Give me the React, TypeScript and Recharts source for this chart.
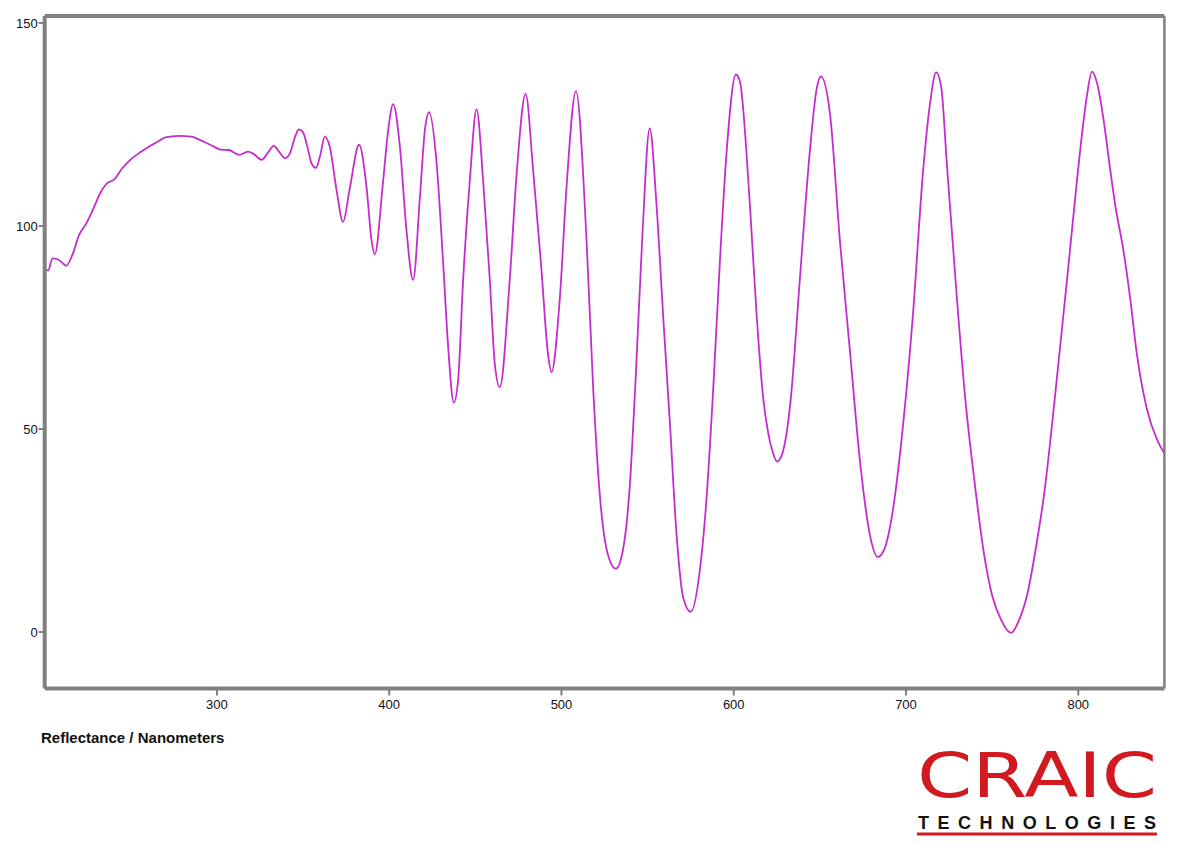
import { LineChart, Line, XAxis, YAxis, ReferenceLine } from "recharts";

// wavelength (nm) and reflectance
const wavelengths = [
  200, 202, 204.5, 207.5, 209.5, 212.5, 216, 220, 224, 228, 232.5, 236.5, 240, 245, 250, 255, 260, 265, 270, 278,
  285, 292, 298, 302, 307, 313, 318, 321, 326, 329.5, 333, 336, 339.5, 342.5, 345, 347.5, 350, 352.5, 355, 357.5,
  360, 362.6, 365.5, 369.4, 373.2, 377, 382.5, 386.8, 389.7, 391.6, 396.5, 399.4, 402.3, 406.2, 410, 413.9, 417.8,
  420.7, 423.2, 427.5, 431.3, 434.2, 437.5, 440, 442.9, 446.8, 450.7, 454.5, 458.4, 461.3, 464.2, 470, 474, 479.2,
  483.5, 488.4, 492.3, 494.2, 499, 503, 508.4, 514.6, 518.4, 522.3, 527, 531.6, 536, 539.5, 543, 547, 551.2,
  555.2, 559, 563, 566.8, 570.7, 575, 580.4, 584.3, 588.1, 592, 595.9, 601.3, 603.6, 609.4, 613.3, 617, 620, 622.5,
  625.1, 627.8, 630.5, 633, 638.4, 644.2, 648.1, 650.6, 655.9, 661.7, 667.5, 673.3, 679, 683.6, 687.5, 692, 698.3, 704,
  710, 713.9, 717.5, 720.5, 723.6, 729.4, 734.5, 739.5, 745, 750, 755, 761, 765.5, 770.5, 775.5, 780.5, 785, 789.4,
  794, 798, 802, 805, 808, 811, 814.4, 818.5, 821.5, 826.2, 830.2, 834, 839.8, 845.6, 850,
];

const reflectance = [
  89.5, 89, 92, 91.8, 91.2, 90.2, 92.8, 97.8, 100.5, 104, 108.3, 110.6, 111.3, 114.2, 116.4, 118, 119.4, 120.6, 121.8, 122.2,
  122, 120.8, 119.6, 118.8, 118.7, 117.5, 118.3, 117.8, 116.3, 118, 119.7, 118.3, 116.7, 118, 121.5, 123.8, 123, 119.5, 115.3, 114.3,
  117.5, 122, 119.5, 108.9, 101, 109, 120, 109.7, 96.6, 93, 111.3, 123.6, 130, 119.5, 99, 86.7, 107,
  123.6, 128, 115.5, 90.9, 70.3, 56.5, 62, 86.7, 111.3, 128.7, 111.3, 86.7, 66, 60.3, 87, 113, 132.5,
  114, 89, 68, 64, 82, 110, 133.2, 96, 60, 33.5, 19, 15.6, 21, 35, 62, 98, 124,
  105, 78, 51, 24, 8.4, 5, 15.5, 33.5, 60, 91.6, 118.5, 137.3, 135.5, 105, 78, 58, 49, 44.5,
  42, 43.5, 48.5, 57, 87, 118.5, 133.7, 136.8, 127.5, 96, 69, 42, 24, 18.5, 20.5, 29, 51, 78,
  114, 130, 137.8, 134, 116, 83, 57, 38, 20, 9, 3.2, -0.2, 2.8, 9.5, 21, 35, 52, 70,
  89, 106, 122, 132, 138, 135, 127, 114, 105, 94, 82, 68.5, 55, 47.5, 44,
];

const xTicks = [300, 400, 500, 600, 700, 800];
const yTicks = [0, 50, 100, 150];

const data = wavelengths.map((nm, i) => ({ nm, r: reflectance[i] }));

const frame = "#808080";
const tickFont = { fontFamily: "'Liberation Sans', Arial, sans-serif", fontSize: 13, fill: "#111" };

export default function App() {
  return (
    <div style={{ position: "relative", width: 1175, height: 837 }}>
      <LineChart width={1175} height={720} data={data} margin={{ top: 8, right: 18.6, left: 0, bottom: 9.5 }}>
        <XAxis
          dataKey="nm"
          type="number"
          domain={[200, 850]}
          ticks={xTicks}
          allowDataOverflow
          height={30}
          axisLine={{ stroke: frame, strokeWidth: 4 }}
          tickLine={{ stroke: frame, strokeWidth: 2 }}
          tickSize={7}
          tickMargin={4}
          tick={tickFont}
        />
        <YAxis
          type="number"
          domain={[-13.9, 151.7]}
          ticks={yTicks}
          allowDataOverflow
          width={36.7}
          axisLine={{ stroke: frame, strokeWidth: 4 }}
          tickLine={{ stroke: frame, strokeWidth: 2 }}
          tickSize={6}
          tickMargin={1}
          tick={tickFont}
        />
        <ReferenceLine y={151.7} stroke={frame} strokeWidth={4} ifOverflow="visible" />
        <ReferenceLine x={850} stroke={frame} strokeWidth={2.5} ifOverflow="visible" />
        <Line
          dataKey="r"
          type="monotone"
          stroke="#c62ccc"
          strokeWidth={1.8}
          dot={false}
          isAnimationActive={false}
        />
      </LineChart>
      <svg
        width={1175}
        height={837}
        style={{ position: "absolute", left: 0, top: 0, pointerEvents: "none" }}
      >
        <text x={33} y={735} fontFamily="'Liberation Sans', Arial, sans-serif" fontWeight="bold" fontSize={15} fill="#111">
          Reflectance / Nanometers
        </text>
        <text
          x={909}
          y={789}
          fontFamily="'DejaVu Sans', sans-serif"
          fontSize={62}
          fill="#d11a20"
          textLength={240}
          lengthAdjust="spacingAndGlyphs"
        >
          CRAIC
        </text>
        <text
          x={910}
          y={821}
          fontFamily="'Liberation Sans', Arial, sans-serif"
          fontWeight="bold"
          fontSize={18}
          fill="#111"
          textLength={238}
          lengthAdjust="spacing"
        >
          TECHNOLOGIES
        </text>
        <rect x={909} y={824.5} width={240} height={3} fill="#d11a20" />
      </svg>
    </div>
  );
}
